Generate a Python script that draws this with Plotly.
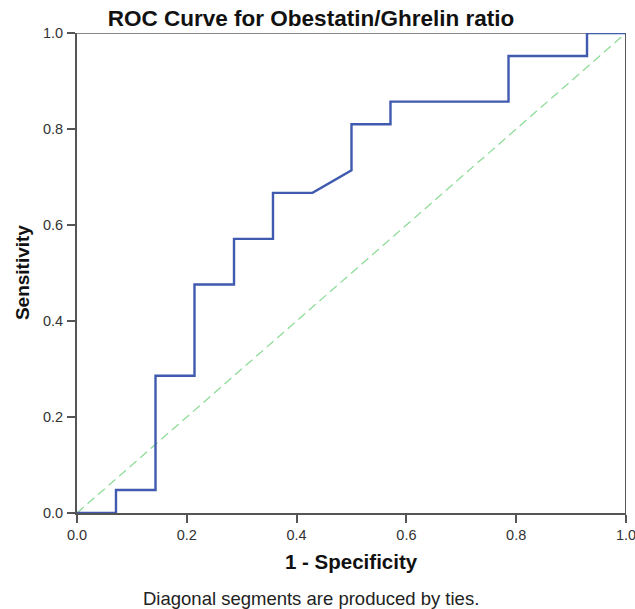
import plotly.graph_objects as go

fpr = [0.0, 0.071, 0.071, 0.143, 0.143, 0.214, 0.214, 0.286, 0.286, 0.357, 0.357,
       0.429, 0.5, 0.5, 0.571, 0.571, 0.786, 0.786, 0.929, 0.929, 1.0]
tpr = [0.0, 0.0, 0.048, 0.048, 0.286, 0.286, 0.476, 0.476, 0.571, 0.571, 0.667,
       0.667, 0.714, 0.810, 0.810, 0.857, 0.857, 0.952, 0.952, 1.0, 1.0]
ref_x = [0.0, 1.0]
ref_y = [0.0, 1.0]
tick_vals = [0.0, 0.2, 0.4, 0.6, 0.8, 1.0]
tick_text = ["0.0", "0.2", "0.4", "0.6", "0.8", "1.0"]

FONT = "Liberation Sans, Arial, sans-serif"

fig = go.Figure()
fig.add_trace(go.Scatter(x=ref_x, y=ref_y, mode="lines",
                         line=dict(color="#8fdc98", width=1.3, dash="9px,5px"),
                         hoverinfo="skip", showlegend=False, cliponaxis=False))
fig.add_trace(go.Scatter(x=fpr, y=tpr, mode="lines",
                         line=dict(color="#3f5aae", width=2.4),
                         showlegend=False, cliponaxis=False))

axis_common = dict(range=[0, 1], tickvals=tick_vals, ticktext=tick_text,
                   ticks="outside", ticklen=8, tickwidth=2, tickcolor="#555555",
                   showline=True, linecolor="#555555", linewidth=2, mirror=False,
                   showgrid=False, zeroline=False, automargin=False,
                   ticklabeloverflow="allow",
                   tickfont=dict(family=FONT, size=14.5, color="#333333"))

fig.update_layout(
    width=635, height=609,
    margin=dict(l=77, r=9, t=33, b=96),
    plot_bgcolor="white", paper_bgcolor="white",
    title=dict(text="<b>ROC Curve for Obestatin/Ghrelin ratio</b>",
               x=311 / 635, xref="container", xanchor="center",
               y=1 - 18 / 609, yref="container", yanchor="middle",
               font=dict(family=FONT, size=22.5, color="#111111")),
    xaxis=dict(**axis_common),
    yaxis=dict(**axis_common, ticklabelstandoff=1),
    annotations=[
        dict(text="<b>1 - Specificity</b>", xref="paper", yref="paper",
             x=0.5, y=-0.1, xanchor="center", yanchor="middle", showarrow=False,
             font=dict(family=FONT, size=20.5, color="#111111")),
        dict(text="<b>Sensitivity</b>", xref="paper", yref="paper",
             x=-0.1, y=0.5, xanchor="center", yanchor="middle", showarrow=False,
             textangle=-90,
             font=dict(family=FONT, size=19, color="#111111")),
        dict(text="Diagonal segments are produced by ties.",
             xref="paper", yref="paper", x=0.426, y=-0.179,
             xanchor="center", yanchor="middle", showarrow=False,
             font=dict(family=FONT, size=18.5, color="#222222")),
    ],
    shapes=[
        dict(type="line", xref="x", yref="y", x0=0, x1=1, y0=1, y1=1,
             layer="below", line=dict(color="#888888", width=2)),
        dict(type="line", xref="x", yref="y", x0=1, x1=1, y0=0, y1=1,
             layer="below", line=dict(color="#222222", width=1.5)),
    ],
)

fig.write_html("out.html",
               config={"displayModeBar": False},
               post_script="document.body.style.margin='0';"
                           "document.body.style.overflow='hidden';")
